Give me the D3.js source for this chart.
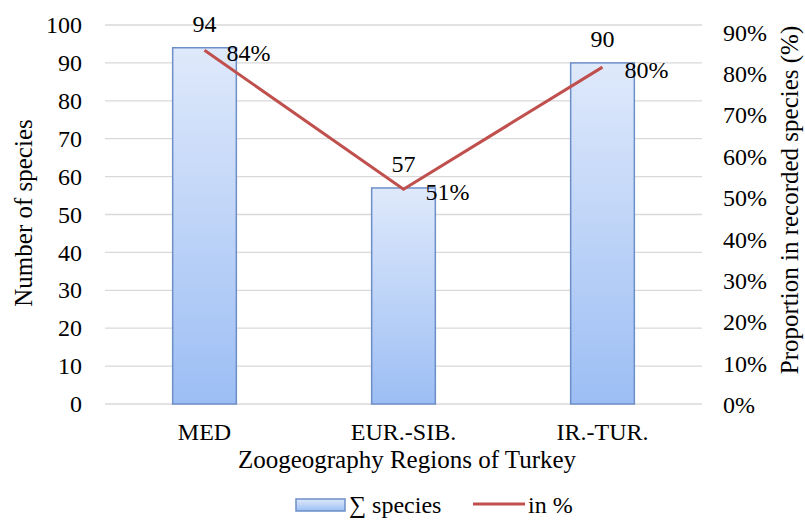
<!DOCTYPE html>
<html>
<head>
<meta charset="utf-8">
<script src="https://cdn.jsdelivr.net/npm/d3@7"></script>
</head>
<body style="margin:0; background:#fff">
<div id="chart"></div>
<script>
// data
var regions = ["MED", "EUR.-SIB.", "IR.-TUR."];
var speciesCount = [94, 57, 90];
var percentShare = [0.84, 0.51, 0.80];
var leftTicks = [0, 10, 20, 30, 40, 50, 60, 70, 80, 90, 100];
var rightTicks = [0, 0.1, 0.2, 0.3, 0.4, 0.5, 0.6, 0.7, 0.8, 0.9];

var FONT = "Liberation Serif";
var svgWidth = 805, svgHeight = 520;
var margin = { top: 25, left: 105, right: 103, bottom: 116 };
var width = svgWidth - margin.left - margin.right;
var height = svgHeight - margin.top - margin.bottom;

var svg = d3.select("#chart").append("svg")
  .attr("width", svgWidth)
  .attr("height", svgHeight)
  .attr("font-family", FONT);

var defs = svg.append("defs");
var grad = defs.append("linearGradient")
  .attr("id", "barGrad")
  .attr("x1", 0).attr("y1", 0).attr("x2", 0).attr("y2", 1);
grad.append("stop").attr("offset", "0%").attr("stop-color", "#dfe9fb");
grad.append("stop").attr("offset", "100%").attr("stop-color", "#9cbef4");

var g = svg.append("g")
  .attr("transform", `translate(${margin.left}, ${margin.top})`);

// scales
var x = d3.scaleBand().domain(regions).range([0, width]).paddingInner(0.68).paddingOuter(0.34);
var yLeft = d3.scaleLinear().domain([0, 100]).range([height, 0]);
var yRight = d3.scaleLinear().domain([0, 0.9]).range([height, 0]);
// the secondary tick labels sit a little lower than the gridlines in the original
var yRightLabels = d3.scaleLinear().domain([0, 0.9]).range([height + 1, 7.5]);

// gridlines
g.selectAll("line.grid")
  .data(leftTicks)
  .enter()
  .append("line")
  .attr("class", "grid")
  .attr("x1", 0).attr("x2", width)
  .attr("y1", d => yLeft(d)).attr("y2", d => yLeft(d))
  .attr("stroke", "#d9d9d9")
  .attr("stroke-width", 1.3);

// left axis
var leftAxis = g.append("g")
  .call(d3.axisLeft(yLeft).tickValues(leftTicks).tickSize(0).tickPadding(23));
leftAxis.attr("font-family", FONT).attr("font-size", 24);
leftAxis.select(".domain").remove();
leftAxis.selectAll("text").attr("fill", "#000");

// right axis
var rightAxis = g.append("g")
  .attr("transform", `translate(${width}, 0)`)
  .call(d3.axisRight(yRightLabels).tickValues(rightTicks).tickSize(0).tickPadding(21).tickFormat(d3.format(".0%")));
rightAxis.attr("font-family", FONT).attr("font-size", 24);
rightAxis.select(".domain").remove();
rightAxis.selectAll("text").attr("fill", "#000");

// x axis
var xAxis = g.append("g")
  .attr("transform", `translate(0, ${height})`)
  .call(d3.axisBottom(x).tickSize(0).tickPadding(19));
xAxis.attr("font-family", FONT).attr("font-size", 24);
xAxis.select(".domain").remove();
xAxis.selectAll("text").attr("fill", "#000");

// bars
var rows = regions.map((r, i) => ({ region: r, count: speciesCount[i], pct: percentShare[i] }));

g.selectAll("rect.bar")
  .data(rows)
  .enter()
  .append("rect")
  .attr("class", "bar")
  .attr("x", d => x(d.region))
  .attr("y", d => yLeft(d.count))
  .attr("width", x.bandwidth())
  .attr("height", d => height - yLeft(d.count))
  .attr("fill", "url(#barGrad)")
  .attr("stroke", "#6d8fc8")
  .attr("stroke-width", 1.5);

// bar labels
g.selectAll("text.countLabel")
  .data(rows)
  .enter()
  .append("text")
  .attr("class", "countLabel")
  .attr("x", d => x(d.region) + x.bandwidth() / 2)
  .attr("y", d => yLeft(d.count) - 16)
  .attr("text-anchor", "middle")
  .attr("font-family", FONT)
  .attr("font-size", 24)
  .text(d => d.count);

// line
var line = d3.line()
  .x(d => x(d.region) + x.bandwidth() / 2)
  .y(d => yRight(d.pct));

g.append("path")
  .datum(rows)
  .attr("d", line)
  .attr("fill", "none")
  .attr("stroke", "#c0504d")
  .attr("stroke-width", 3);

g.selectAll("text.pctLabel")
  .data(rows)
  .enter()
  .append("text")
  .attr("class", "pctLabel")
  .attr("x", d => x(d.region) + x.bandwidth() / 2 + 22)
  .attr("y", d => yRight(d.pct) + 11)
  .attr("font-family", FONT)
  .attr("font-size", 24)
  .text(d => d3.format(".0%")(d.pct));

// axis titles
svg.append("text")
  .attr("transform", "translate(32, 213) rotate(-90)")
  .attr("text-anchor", "middle")
  .attr("font-family", FONT)
  .attr("font-size", 25)
  .text("Number of species");

svg.append("text")
  .attr("transform", "translate(798, 200) rotate(-90)")
  .attr("text-anchor", "middle")
  .attr("font-family", FONT)
  .attr("font-size", 25)
  .text("Proportion in recorded species (%)");

svg.append("text")
  .attr("x", 407)
  .attr("y", 468)
  .attr("text-anchor", "middle")
  .attr("font-family", FONT)
  .attr("font-size", 25)
  .text("Zoogeography Regions of Turkey");

// legend
var legend = svg.append("g").attr("transform", "translate(296, 505)");
legend.append("rect")
  .attr("x", 0).attr("y", -6)
  .attr("width", 49).attr("height", 12)
  .attr("fill", "url(#barGrad)")
  .attr("stroke", "#6d8fc8")
  .attr("stroke-width", 1.5);
legend.append("text")
  .attr("x", 53).attr("y", 8)
  .attr("font-family", FONT)
  .attr("font-size", 24)
  .text("∑ species");
legend.append("line")
  .attr("x1", 177).attr("x2", 229)
  .attr("y1", -1).attr("y2", -1)
  .attr("stroke", "#c0504d")
  .attr("stroke-width", 3);
legend.append("text")
  .attr("x", 232).attr("y", 8)
  .attr("font-family", FONT)
  .attr("font-size", 24)
  .text("in %");
</script>
</body>
</html>
